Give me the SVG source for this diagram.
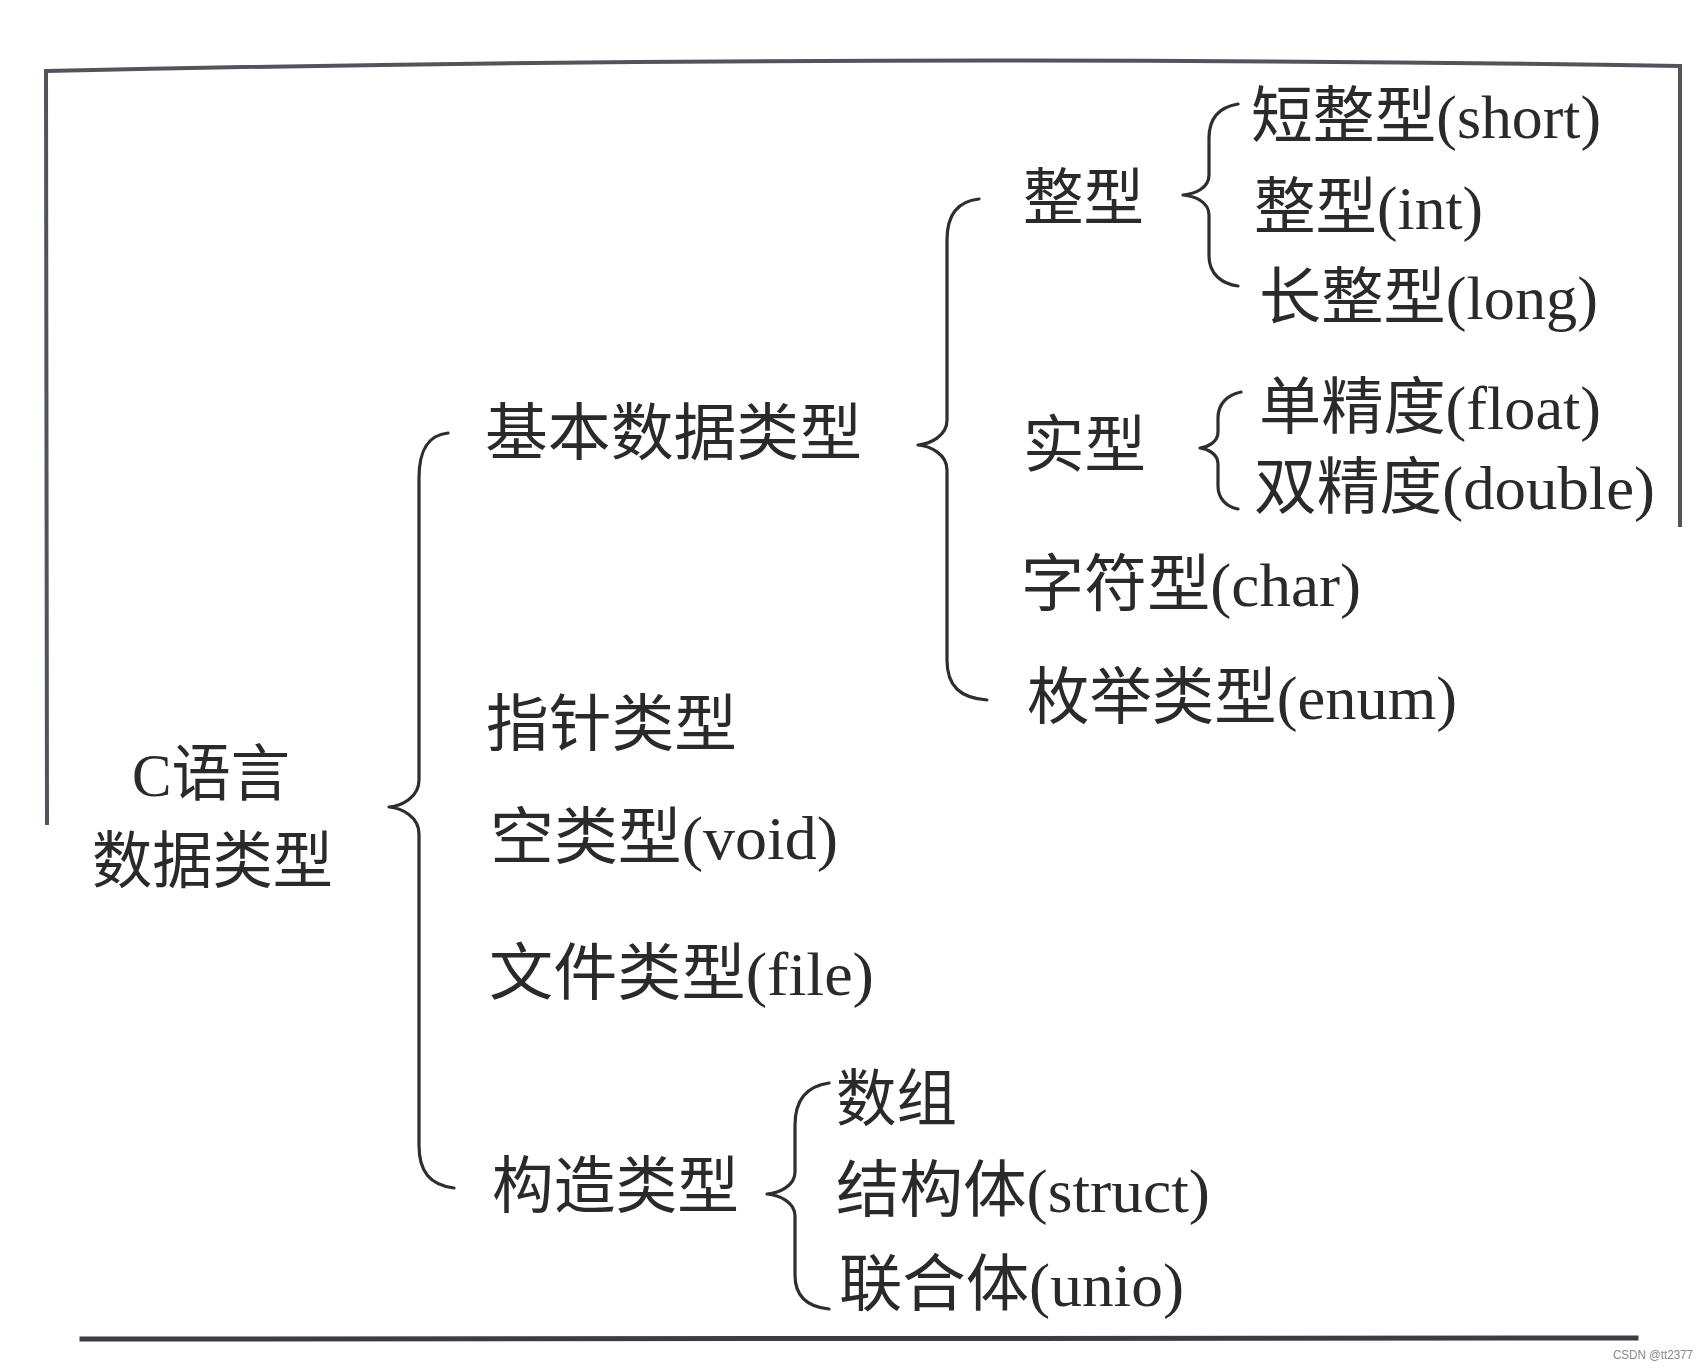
<svg xmlns="http://www.w3.org/2000/svg" width="1708" height="1370" viewBox="0 0 1708 1370">
<style>
.t{font-family:"Liberation Serif","Noto Sans CJK SC",serif;font-size:62px;fill:#2a2a2a}
.br{fill:none;stroke:#2e2e2e;stroke-width:3.2;stroke-linecap:round;stroke-linejoin:round}
.bd{fill:none;stroke:#50555c;stroke-width:4;stroke-linecap:square}
.wm{font-family:"Liberation Sans",Arial,sans-serif;font-size:12px;fill:#8a8a8a}
</style>
<rect width="1708" height="1370" fill="#ffffff"/>
<g id="frame">
<path class="bd" d="M46,71 Q860,53 1680,66"/>
<path class="bd" d="M46,71 L47,823"/>
<path class="bd" d="M1680,66 L1680,525"/>
<path class="bd" d="M82,1339 L1636,1338" style="stroke-width:5;stroke:#3a3d44"/>
</g>
<g id="connectors">
<path class="br" d="M448,433 C430,435 419,447 419,478 L419,780 C419,797 402,806 389,807 C402,808 419,817 419,834 L419,1145 C419,1172 430,1185 454,1188"/>
<path class="br" d="M979,199 C959,201 947,213 947,240 L947,420 C947,436 930,444 918,445 C930,446 947,454 947,470 L947,660 C947,686 960,698 987,700"/>
<path class="br" d="M1238,104 C1220,107 1209,117 1209,138 L1209,175 C1209,188 1195,194 1183,195 C1195,196 1209,202 1209,215 L1209,256 C1209,274 1222,284 1238,286"/>
<path class="br" d="M1241,392 C1227,395 1218,404 1218,418 L1218,432 C1218,442 1208,447 1200,448 C1208,449 1218,454 1218,464 L1218,486 C1218,499 1227,507 1238,509"/>
<path class="br" d="M829,1083 C808,1086 795,1098 795,1125 L795,1172 C795,1186 779,1193 767,1194 C779,1195 795,1202 795,1216 L795,1275 C795,1297 808,1307 829,1309"/>
</g>
<g id="root">
<text class="t" x="132" y="796" textLength="158" lengthAdjust="spacingAndGlyphs">C语言</text>
<text class="t" x="92" y="883" textLength="241" lengthAdjust="spacingAndGlyphs">数据类型</text>
</g>
<g id="basic"><text class="t" x="485" y="455" textLength="377" lengthAdjust="spacingAndGlyphs">基本数据类型</text></g>
<g id="pointer"><text class="t" x="486" y="746" textLength="251" lengthAdjust="spacingAndGlyphs">指针类型</text></g>
<g id="void"><text class="t" x="490" y="859" textLength="348" lengthAdjust="spacingAndGlyphs">空类型(void)</text></g>
<g id="file"><text class="t" x="489" y="995" textLength="385" lengthAdjust="spacingAndGlyphs">文件类型(file)</text></g>
<g id="construct"><text class="t" x="492" y="1208" textLength="247" lengthAdjust="spacingAndGlyphs">构造类型</text></g>
<g id="array"><text class="t" x="836" y="1121" textLength="121" lengthAdjust="spacingAndGlyphs">数组</text></g>
<g id="struct"><text class="t" x="836" y="1212" textLength="374" lengthAdjust="spacingAndGlyphs">结构体(struct)</text></g>
<g id="union"><text class="t" x="839" y="1306" textLength="345" lengthAdjust="spacingAndGlyphs">联合体(unio)</text></g>
<g id="integer"><text class="t" x="1023" y="220" textLength="121" lengthAdjust="spacingAndGlyphs">整型</text></g>
<g id="real"><text class="t" x="1023" y="467" textLength="123" lengthAdjust="spacingAndGlyphs">实型</text></g>
<g id="char"><text class="t" x="1021" y="606" textLength="340" lengthAdjust="spacingAndGlyphs">字符型(char)</text></g>
<g id="enum"><text class="t" x="1027" y="719" textLength="430" lengthAdjust="spacingAndGlyphs">枚举类型(enum)</text></g>
<g id="short"><text class="t" x="1251" y="138" textLength="350" lengthAdjust="spacingAndGlyphs">短整型(short)</text></g>
<g id="int"><text class="t" x="1254" y="229" textLength="229" lengthAdjust="spacingAndGlyphs">整型(int)</text></g>
<g id="long"><text class="t" x="1259" y="319" textLength="339" lengthAdjust="spacingAndGlyphs">长整型(long)</text></g>
<g id="float"><text class="t" x="1259" y="429" textLength="342" lengthAdjust="spacingAndGlyphs">单精度(float)</text></g>
<g id="double"><text class="t" x="1254" y="509" textLength="401" lengthAdjust="spacingAndGlyphs">双精度(double)</text></g>
<text class="wm" x="1613" y="1359" textLength="80" lengthAdjust="spacingAndGlyphs">CSDN @tt2377</text>
</svg>
